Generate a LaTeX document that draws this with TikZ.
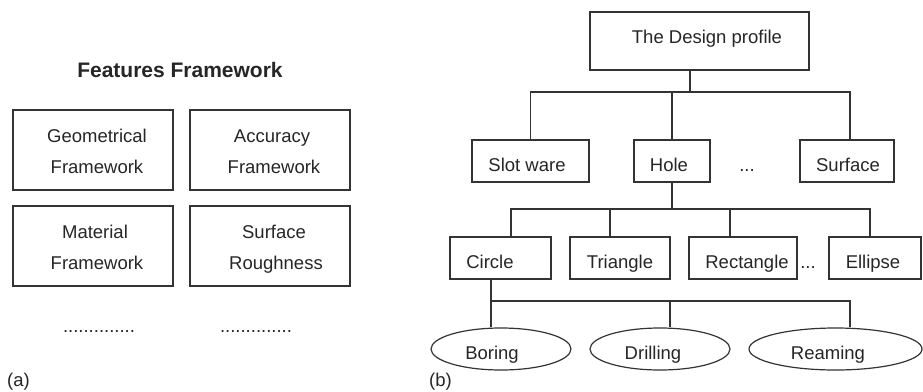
\documentclass[tikz,border=0pt]{standalone}
\usepackage{fontspec}
\setmainfont{Liberation Sans}
\usetikzlibrary{shapes.geometric}
\begin{document}
\begin{tikzpicture}[x=1pt,y=-1pt,
  box/.style={draw=black!80, line width=1.2pt, rectangle, inner sep=0pt},
  oval/.style={draw=black!80, line width=1.2pt, ellipse, inner sep=0pt, minimum height=42},
  txt/.style={anchor=base, inner sep=0pt, text=black!85, font=\fontsize{18.5}{22}\selectfont},
  conn/.style={draw=black!80, line width=1.2pt}]
\useasboundingbox (0,0) rectangle (923,391);
\fill[white] (0,0) rectangle (923,391);
% ---------- (a) ----------
\node[txt, font=\bfseries\fontsize{21}{25}\selectfont] (title) at (180,77) {Features Framework};
\node[box, minimum width=160, minimum height=80] (geo) at (93,150) {};
\node[txt] (geoA) at (97,142) {Geometrical};
\node[txt] (geoB) at (97,173) {Framework};
\node[box, minimum width=160, minimum height=80] (acc) at (270,150) {};
\node[txt] (accA) at (272,142) {Accuracy};
\node[txt] (accB) at (274,173) {Framework};
\node[box, minimum width=160, minimum height=80] (mat) at (93,246) {};
\node[txt] (matA) at (95,238) {Material};
\node[txt] (matB) at (97,269) {Framework};
\node[box, minimum width=160, minimum height=80] (srf) at (270,246) {};
\node[txt] (srfA) at (274,238) {Surface};
\node[txt] (srfB) at (276,269) {Roughness};
\node[txt] (dotsA) at (99,332) {..............};
\node[txt] (dotsB) at (256,332) {..............};
\node[txt, anchor=base west] (labA) at (7,386) {(a)};
% ---------- (b) ----------
\node[box, minimum width=219, minimum height=58] (dp) at (699.5,41) {};
\node[txt] (dpT) at (707,43) {The Design profile};
\node[box, minimum width=117, minimum height=42] (slot) at (530.5,161) {};
\node[txt] (slotT) at (527,171) {Slot ware};
\node[box, minimum width=76, minimum height=42] (hole) at (672,161) {};
\node[txt] (holeT) at (669,171) {Hole};
\node[txt] (dots1) at (747,171) {...};
\node[box, minimum width=94, minimum height=42] (surf) at (847,161) {};
\node[txt] (surfT) at (848,171) {Surface};
\node[box, minimum width=101, minimum height=42] (cir) at (500.5,258) {};
\node[txt] (cirT) at (490,268) {Circle};
\node[box, minimum width=100, minimum height=42] (tri) at (620,258) {};
\node[txt] (triT) at (620,268) {Triangle};
\node[box, minimum width=108, minimum height=42] (rect) at (743,258) {};
\node[txt] (rectT) at (747,268) {Rectangle};
\node[txt] (dots2) at (808,268) {...};
\node[box, minimum width=92, minimum height=42] (ell) at (875,258) {};
\node[txt] (ellT) at (873,268) {Ellipse};
\node[oval, minimum width=140] (bor) at (501,349) {};
\node[txt] (borT) at (492,359) {Boring};
\node[oval, minimum width=140] (dril) at (660,349) {};
\node[txt] (drilT) at (653,359) {Drilling};
\node[oval, minimum width=173] (ream) at (835.5,349) {};
\node[txt] (reamT) at (828,359) {Reaming};
\node[txt, anchor=base west] (labB) at (429,386) {(b)};
% bus levels
\coordinate (bus1) at (0,92);
\coordinate (bus2) at (0,209);
\coordinate (bus3) at (0,301);
% level 1
\coordinate (dpS) at ([xshift=-9.5pt]dp.south);
\coordinate (surfN) at ([xshift=3pt]surf.north);
\draw[conn] (dpS) -- (dpS |- bus1);
\draw[conn] (slot.north) -- (slot.north |- bus1) -- (surfN |- bus1) -- (surfN);
\draw[conn] (hole.north) -- (hole.north |- bus1);
% level 2
\coordinate (cirN) at ([xshift=10.5pt]cir.north);
\coordinate (triN) at ([xshift=-10pt]tri.north);
\coordinate (rectN) at ([xshift=-13pt]rect.north);
\coordinate (ellN) at ([xshift=-5pt]ell.north);
\draw[conn] (hole.south) -- (hole.south |- bus2);
\draw[conn] (cirN) -- (cirN |- bus2) -- (ellN |- bus2) -- (ellN);
\draw[conn] (triN) -- (triN |- bus2);
\draw[conn] (rectN) -- (rectN |- bus2);
% level 3
\coordinate (cirS) at ([xshift=-9.5pt]cir.south);
\coordinate (borN) at ([xshift=-10pt]bor.north);
\coordinate (drilN) at ([xshift=10pt]dril.north);
\coordinate (reamN) at ([xshift=14.5pt]ream.north);
\draw[conn] (cirS) -- (borN);
\draw[conn] (cirS |- bus3) -- (reamN |- bus3) -- (reamN);
\draw[conn] (drilN |- bus3) -- (drilN);
\end{tikzpicture}
\end{document}
